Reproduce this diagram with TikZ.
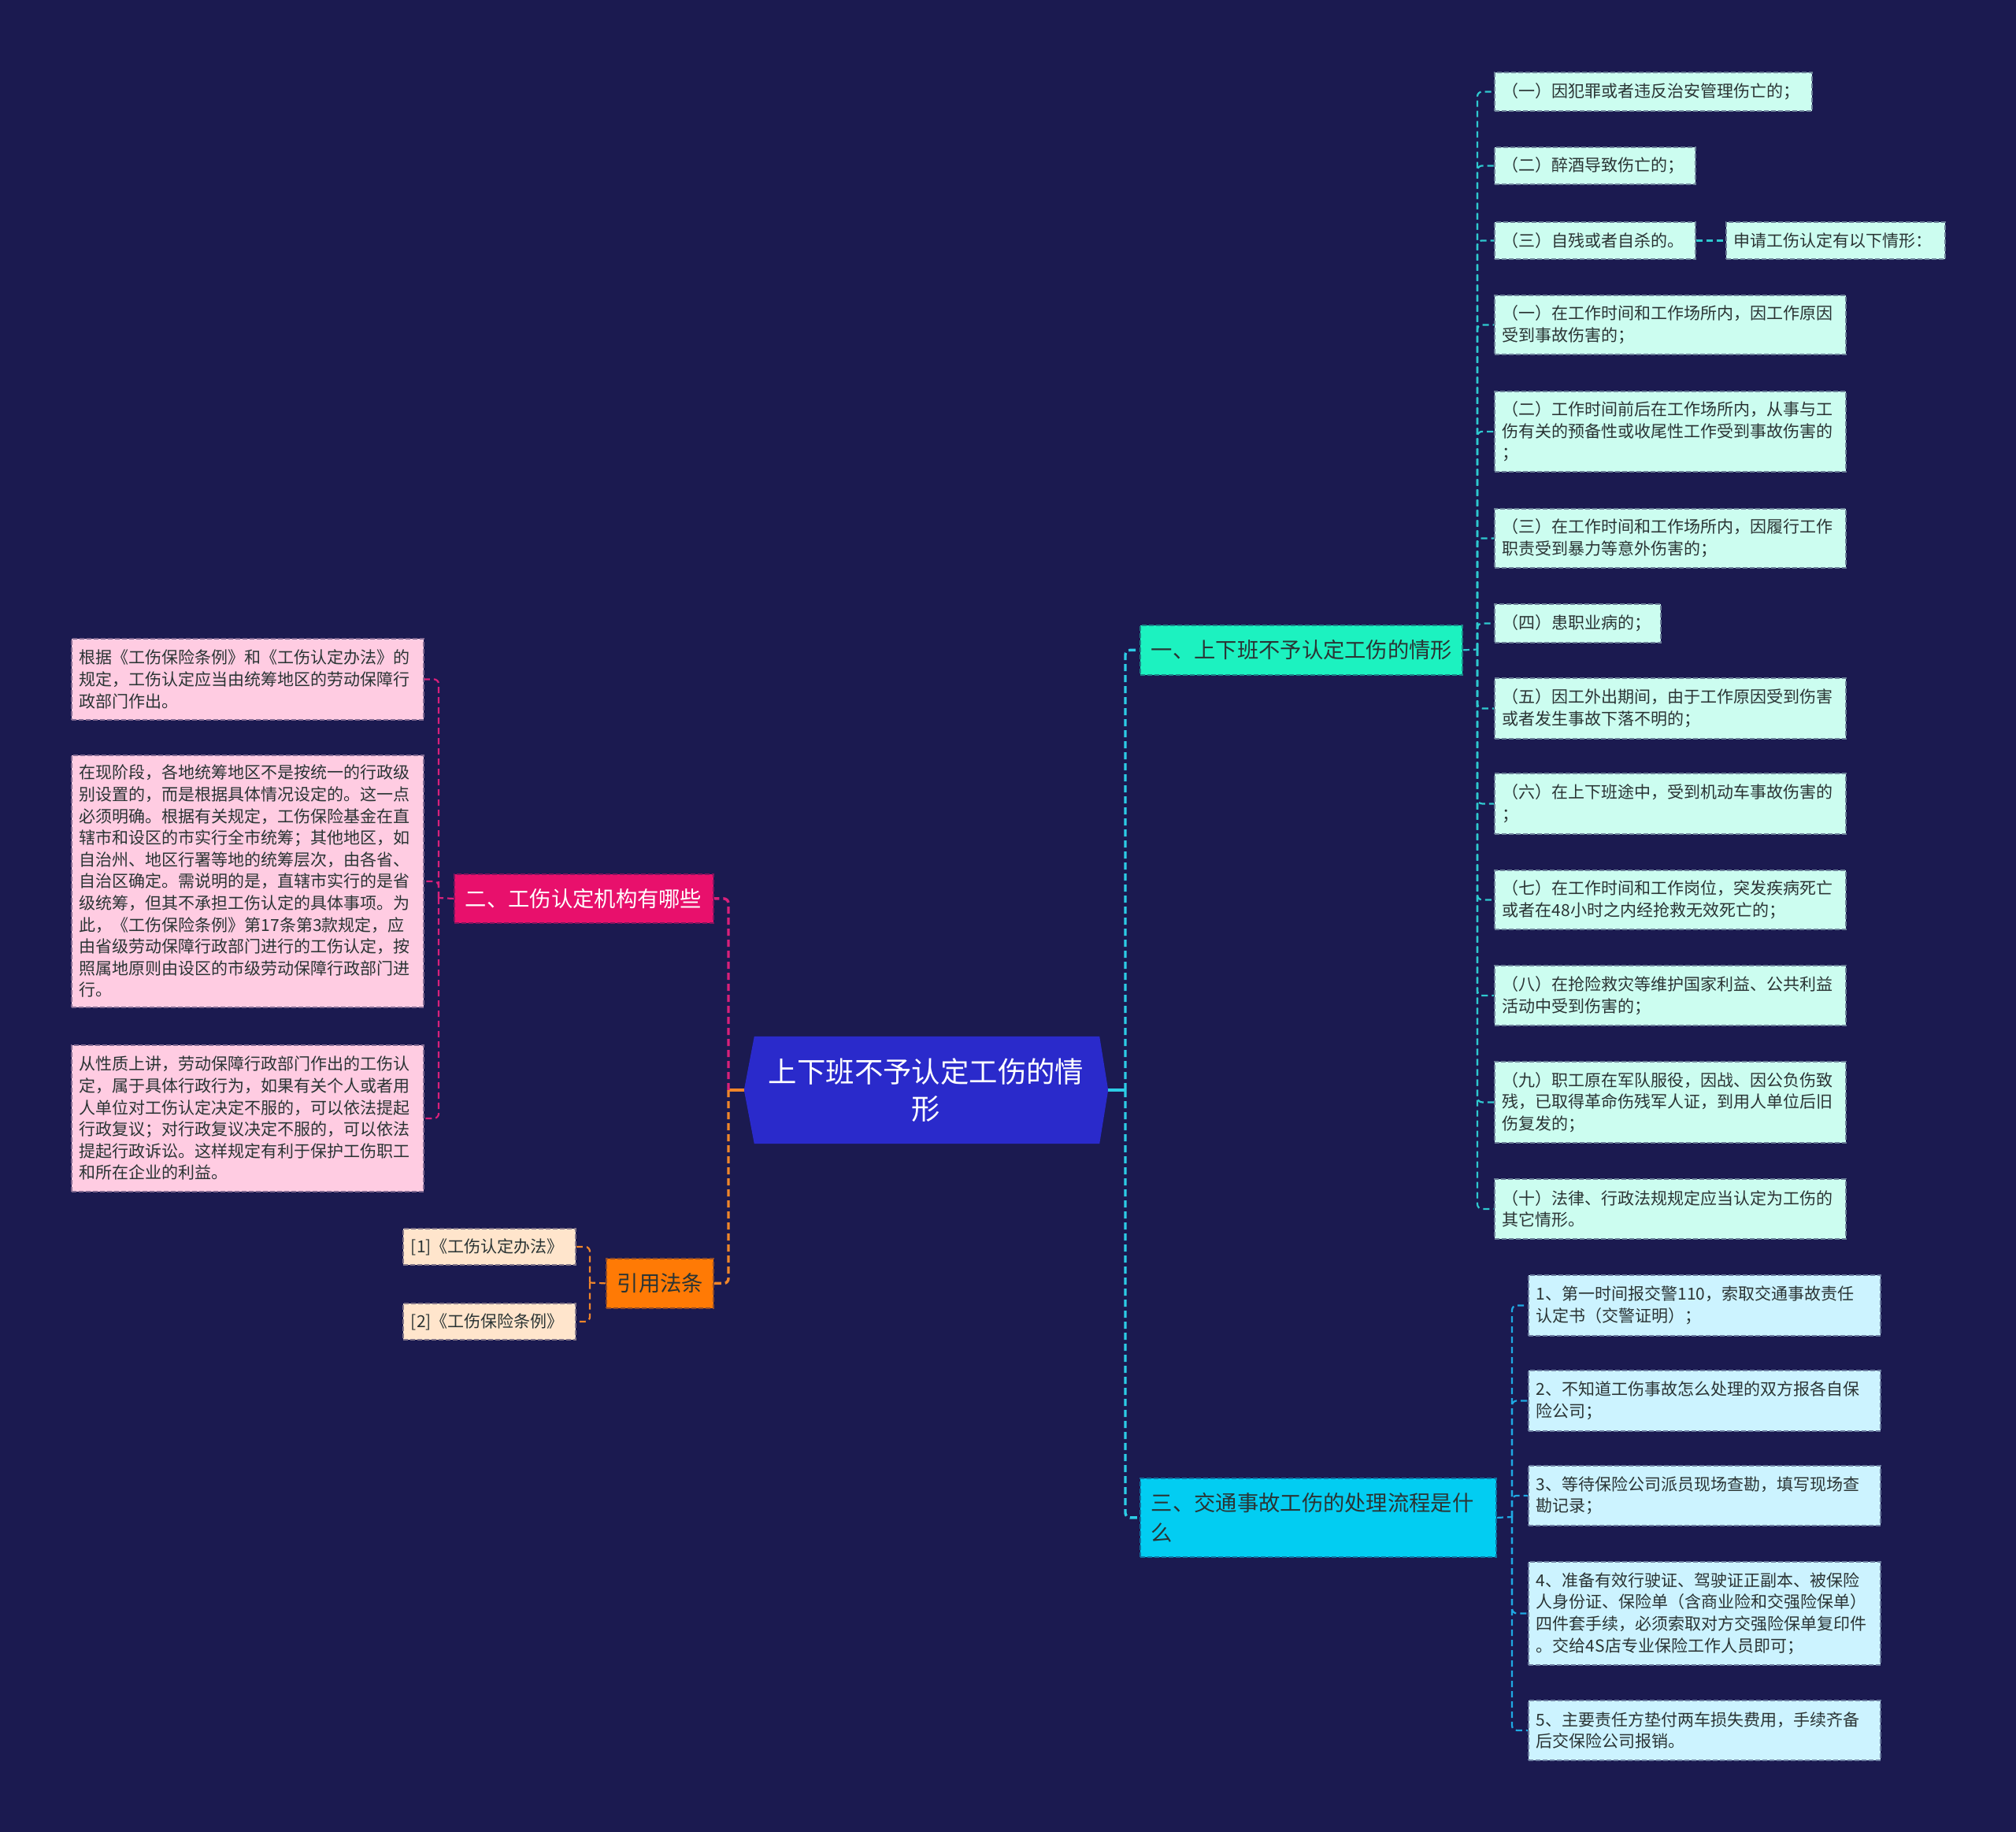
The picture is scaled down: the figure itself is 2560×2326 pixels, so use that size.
\documentclass[tikz,border=0pt]{standalone}
\usepackage{fontspec}
\setmainfont{Noto Sans CJK SC}
\usetikzlibrary{calc}
\pgfdeclarelayer{bg}
\pgfdeclarelayer{mid}
\pgfsetlayers{bg,mid,main}
\definecolor{bgc}{HTML}{1B1A50}
\definecolor{rootf}{HTML}{2A2ACB}
\definecolor{onef}{HTML}{1CF2C0}
\definecolor{threef}{HTML}{02CDF2}
\definecolor{twof}{HTML}{E8106C}
\definecolor{fourf}{HTML}{FF7A05}
\definecolor{mintf}{HTML}{CCFDF0}
\definecolor{bluef}{HTML}{CCF3FF}
\definecolor{pinkf}{HTML}{FFCCE2}
\definecolor{peachf}{HTML}{FFE5CC}
\definecolor{leaftext}{HTML}{2A3434}
\definecolor{linkC}{HTML}{2CCDE6}
\definecolor{linkT}{HTML}{2FC9CF}
\definecolor{linkB}{HTML}{1FA9E3}
\definecolor{linkP}{HTML}{D9207A}
\definecolor{linkO}{HTML}{F0862A}
\tikzset{
  box/.style={draw, line width=1.8pt, dash pattern=on 6pt off 3pt, inner xsep=10pt, inner ysep=0pt,
    align=left, anchor=north west, font=\fontsize{21}{27.6}\selectfont, text=leaftext},
  mint/.style={box, fill=mintf, draw=mintf!45!bgc},
  bluebox/.style={box, fill=bluef, draw=bluef!45!bgc},
  pinkbox/.style={box, fill=pinkf, draw=pinkf!45!bgc},
  peachbox/.style={box, fill=peachf, draw=peachf!45!bgc},
  branch/.style={draw, line width=1.8pt, dash pattern=on 6pt off 3pt, inner xsep=14pt, inner ysep=0pt,
    align=left, anchor=north west, font=\fontsize{27.3}{37.5}\selectfont},
  link/.style={line width=2.2pt, dash pattern=on 8pt off 5pt, rounded corners=6pt},
  mainlink/.style={line width=3.4pt, dash pattern=on 9pt off 5pt, rounded corners=6pt},
  stub/.style={line width=3.4pt},
}
\begin{document}
\begin{tikzpicture}[x=1pt,y=-1pt]
\begin{pgfonlayer}{bg}
\fill[bgc] (0,0) rectangle (2560,2326);
\end{pgfonlayer}
\useasboundingbox (0,0) rectangle (2560,2326);

% root
\node[minimum width=462pt, minimum height=136pt, inner sep=0pt, text width=420pt, align=center,
  text=white, font=\fontsize{36.4}{47}\selectfont] (root) at (1176,1384) {上下班不予认定工伤的情\\形};
\begin{pgfonlayer}{mid}
\fill[rootf] ($(root.north west)+(13,0)$) -- ($(root.north east)+(-11,0)$) -- (root.east)
  -- ($(root.south east)+(-11,0)$) -- ($(root.south west)+(13,0)$) -- (root.west) -- cycle;
\end{pgfonlayer}

% branches
\node[branch, fill=onef, draw=onef!50!bgc, text=leaftext, text width=381pt, minimum height=63pt] (b1) at (1447,793) {一、上下班不予认定工伤的情形};
\node[branch, fill=threef, draw=threef!50!bgc, text=leaftext, text width=424pt, minimum height=100pt] (b3) at (1447,1876) {三、交通事故工伤的处理流程是什\\么};
\node[branch, fill=twof, draw=twof!50!bgc, text=white, text width=301pt, minimum height=62pt] (b2) at (576,1109) {二、工伤认定机构有哪些};
\node[branch, fill=fourf, draw=fourf!50!bgc, text=leaftext, text width=108pt, minimum height=63pt] (b4) at (769,1597) {引用法条};

% leaves of branch one
\node[mint, text width=383pt, minimum height=49pt] (m1) at (1897,91) {（一）因犯罪或者违反治安管理伤亡的；};
\node[mint, text width=235pt, minimum height=47pt] (m2) at (1897,186) {（二）醉酒导致伤亡的；};
\node[mint, text width=235pt, minimum height=47pt] (m3) at (1897,281) {（三）自残或者自杀的。};
\node[mint, text width=258pt, minimum height=47pt] (app) at (2191,281) {申请工伤认定有以下情形：};
\node[mint, text width=426pt, minimum height=75pt] (m4) at (1897,374) {（一）在工作时间和工作场所内，因工作原因\\受到事故伤害的；};
\node[mint, text width=426pt, minimum height=102pt] (m5) at (1897,496) {（二）工作时间前后在工作场所内，从事与工\\伤有关的预备性或收尾性工作受到事故伤害的\\；};
\node[mint, text width=426pt, minimum height=75pt] (m6) at (1897,645) {（三）在工作时间和工作场所内，因履行工作\\职责受到暴力等意外伤害的；};
\node[mint, text width=191pt, minimum height=49pt] (m7) at (1897,766) {（四）患职业病的；};
\node[mint, text width=426pt, minimum height=77pt] (m8) at (1897,860) {（五）因工外出期间，由于工作原因受到伤害\\或者发生事故下落不明的；};
\node[mint, text width=426pt, minimum height=77pt] (m9) at (1897,981) {（六）在上下班途中，受到机动车事故伤害的\\；};
\node[mint, text width=426pt, minimum height=75pt] (m10) at (1897,1104) {（七）在工作时间和工作岗位，突发疾病死亡\\或者在48小时之内经抢救无效死亡的；};
\node[mint, text width=426pt, minimum height=76pt] (m11) at (1897,1225) {（八）在抢险救灾等维护国家利益、公共利益\\活动中受到伤害的；};
\node[mint, text width=426pt, minimum height=103pt] (m12) at (1897,1347) {（九）职工原在军队服役，因战、因公负伤致\\残，已取得革命伤残军人证，到用人单位后旧\\伤复发的；};
\node[mint, text width=426pt, minimum height=76pt] (m13) at (1897,1496) {（十）法律、行政法规规定应当认定为工伤的\\其它情形。};

% leaves of branch three
\node[bluebox, text width=427pt, minimum height=77pt] (c1) at (1940,1618) {1、第一时间报交警110，索取交通事故责任\\认定书（交警证明）；};
\node[bluebox, text width=427pt, minimum height=77pt] (c2) at (1940,1739) {2、不知道工伤事故怎么处理的双方报各自保\\险公司；};
\node[bluebox, text width=427pt, minimum height=76pt] (c3) at (1940,1860) {3、等待保险公司派员现场查勘，填写现场查\\勘记录；};
\node[bluebox, text width=427pt, minimum height=131pt] (c4) at (1940,1982) {4、准备有效行驶证、驾驶证正副本、被保险\\人身份证、保险单（含商业险和交强险保单）\\四件套手续，必须索取对方交强险保单复印件\\。交给4S店专业保险工作人员即可；};
\node[bluebox, text width=427pt, minimum height=76pt] (c5) at (1940,2158) {5、主要责任方垫付两车损失费用，手续齐备\\后交保险公司报销。};

% leaves of branch two
\node[pinkbox, text width=427pt, minimum height=103pt] (p1) at (90,810) {根据《工伤保险条例》和《工伤认定办法》的\\规定，工伤认定应当由统筹地区的劳动保障行\\政部门作出。};
\node[pinkbox, text width=427pt, minimum height=320pt] (p2) at (90,958) {在现阶段，各地统筹地区不是按统一的行政级\\别设置的，而是根据具体情况设定的。这一点\\必须明确。根据有关规定，工伤保险基金在直\\辖市和设区的市实行全市统筹；其他地区，如\\自治州、地区行署等地的统筹层次，由各省、\\自治区确定。需说明的是，直辖市实行的是省\\级统筹，但其不承担工伤认定的具体事项。为\\此，《工伤保险条例》第17条第3款规定，应\\由省级劳动保障行政部门进行的工伤认定，按\\照属地原则由设区的市级劳动保障行政部门进\\行。};
\node[pinkbox, text width=427pt, minimum height=186pt] (p3) at (90,1326) {从性质上讲，劳动保障行政部门作出的工伤认\\定，属于具体行政行为，如果有关个人或者用\\人单位对工伤认定决定不服的，可以依法提起\\行政复议；对行政复议决定不服的，可以依法\\提起行政诉讼。这样规定有利于保护工伤职工\\和所在企业的利益。};

% leaves of citations
\node[peachbox, text width=199pt, minimum height=46pt] (r1) at (511,1559) {[1]《工伤认定办法》};
\node[peachbox, text width=199pt, minimum height=46pt] (r2) at (511,1654) {[2]《工伤保险条例》};

% junction coordinates
\coordinate (rj) at (1429,1384);
\coordinate (rl) at (925,1384);
\coordinate (j1) at (1876,824.5);
\coordinate (j3) at (1920,1926);
\coordinate (j2) at (557,1140);
\coordinate (j4) at (749,1628.5);

% connectors right
\draw[stub, linkC] (root.east) -- (rj);
\draw[mainlink, linkC] (rj) |- (b1.west);
\draw[mainlink, linkC] (rj) |- (b3.west);
\draw[link, linkT] (b1.east) -- (j1);
\foreach \n in {m1,m2,m3,m4,m5,m6,m7,m8,m9,m10,m11,m12,m13}
  \draw[link, linkT] (j1) |- (\n.west);
\draw[link, linkT] (m3.east) -- (app.west);
\draw[link, linkB] (b3.east) -- (j3);
\foreach \n in {c1,c2,c3,c4,c5}
  \draw[link, linkB] (j3) |- (\n.west);

% connectors left
\draw[stub, linkO] (root.west) -- (rl);
\draw[mainlink, linkP] (rl) |- (b2.east);
\draw[mainlink, linkO] (rl) |- (b4.east);
\draw[link, linkP] (b2.west) -- (j2);
\foreach \n in {p1,p2,p3}
  \draw[link, linkP] (j2) |- (\n.east);
\draw[link, linkO] (b4.west) -- (j4);
\foreach \n in {r1,r2}
  \draw[link, linkO] (j4) |- (\n.east);
\end{tikzpicture}
\end{document}
